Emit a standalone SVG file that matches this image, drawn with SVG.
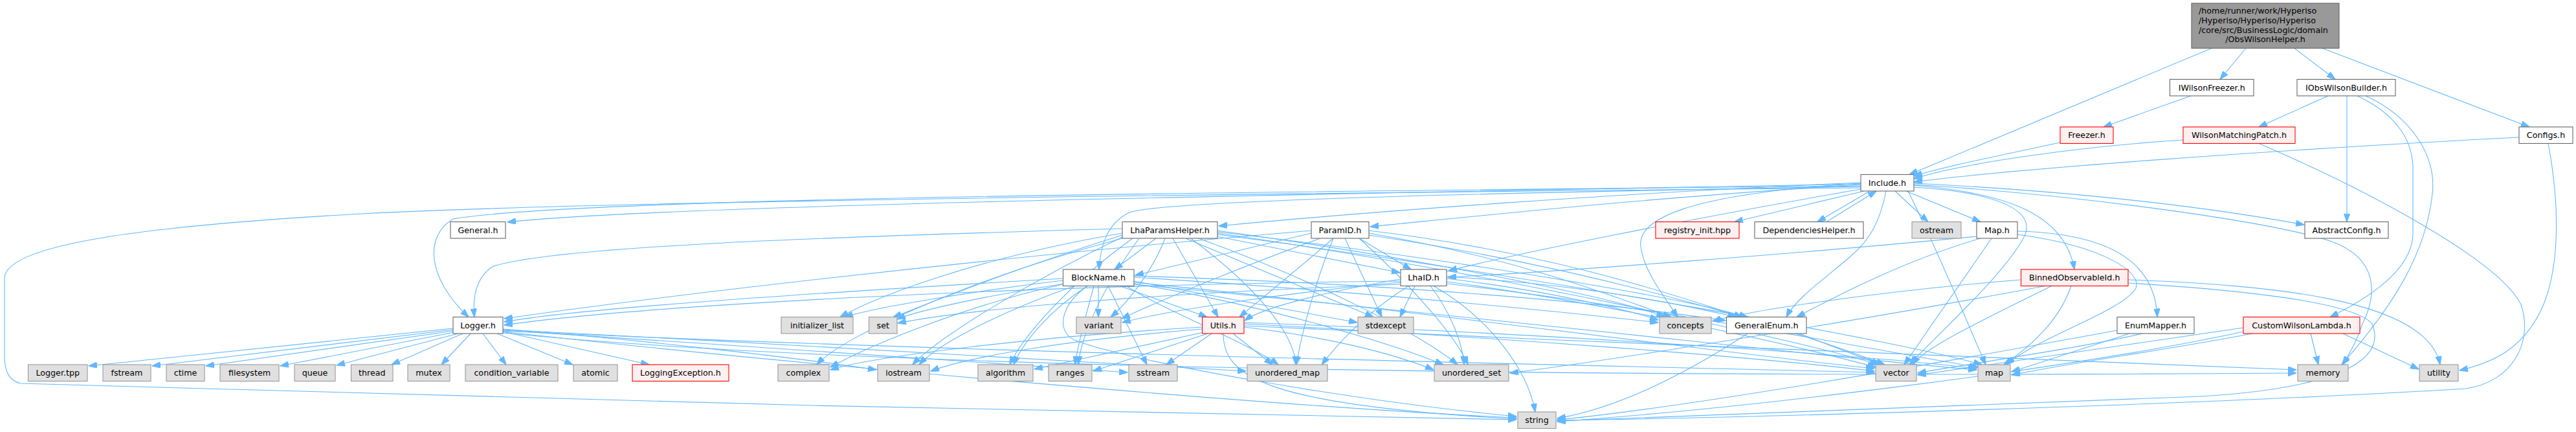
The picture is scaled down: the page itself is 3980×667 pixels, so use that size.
<svg xmlns="http://www.w3.org/2000/svg" width="3980" height="667" viewBox="0 0 3980 667">
<style>
.e{fill:none;stroke:#63B8FF;stroke-width:1.1;marker-end:url(#a)}
.n rect{stroke-width:1.1}
.w rect{fill:#fff;stroke:#666}
.g rect{fill:#E0E0E0;stroke:#999}
.r rect{fill:#FFF0F0;stroke:#f00}
.top rect{fill:#999;stroke:#666}
text{font-family:"DejaVu Sans","Liberation Sans",sans-serif;font-size:12.7px;fill:#000;text-anchor:middle}
.l{text-anchor:start}
</style>
<defs>
<marker id="a" viewBox="0 0 13.5 9.5" markerWidth="13.5" markerHeight="9.5" refX="13" refY="4.75" orient="auto" markerUnits="userSpaceOnUse">
<path d="M0,0 L13.5,4.75 L0,9.5 Z" fill="#63B8FF" stroke="#63B8FF"/>
</marker>
</defs>
<rect width="3980" height="667" fill="#fff"/>
<g id="edges">
<path class="e" d="M3417,74.5 L2950,269.5"/>
<path class="e" d="M3470,74.5 L3430,122.5"/>
<path class="e" d="M3545,74.5 L3608,122.5"/>
<path class="e" d="M3588,74.5 L3908,196"/>
<path class="e" d="M3385,148 L3250,196"/>
<path class="e" d="M3597,148 L3490,196"/>
<path class="e" d="M3626,148 L3626,342.5"/>
<path class="e" d="M3642,148 C3700,175 3728,215 3728,260 L3728,360 C3728,420 3650,465 3600,489.5"/>
<path class="e" d="M3655,148 C3725,180 3765,240 3758,300 C3748,390 3700,470 3618,563"/>
<path class="e" d="M3183,220 C3090,240 3000,258 2957,272"/>
<path class="e" d="M3373,216 C3220,226 3040,250 2957,276"/>
<path class="e" d="M3892,212 C3500,232 3100,262 2957,281"/>
<path class="e" d="M3490,221.5 C3650,290 3860,400 3895,470 C3915,530 3880,590 3810,600 C3400,625 2700,645 2406,649"/>
<path class="e" d="M2875,284 C2000,300 1000,318 784,343"/>
<path class="e" d="M2875,287 C2000,296 900,304 700,338 C655,365 660,430 724,489.5"/>
<path class="e" d="M2875,290 C1800,300 900,312 560,330 C200,350 7,380 7,430 L7,550 C7,575 15,588 32,592 C600,612 1700,638 2343,648"/>
<path class="e" d="M2875,282 C2500,298 2100,328 1883,349"/>
<path class="e" d="M2875,285 C2550,305 2300,332 2117,350"/>
<path class="e" d="M2875,288 C2400,296 1800,308 1745,328 C1710,345 1700,380 1698,416"/>
<path class="e" d="M2875,292 C2600,340 2350,390 2238,418"/>
<path class="e" d="M2880,295 L2680,342.5"/>
<path class="e" d="M2889,295 L2808,342.5"/>
<path class="e" d="M2822,342.5 L2899,295"/>
<path class="e" d="M2928,295 L2979,342.5"/>
<path class="e" d="M2945,295 L3060,342.5"/>
<path class="e" d="M2914,295 C2905,340 2890,370 2860,395 C2820,430 2775,460 2760,489.5"/>
<path class="e" d="M2957,289 C3100,298 3150,330 3125,370 C3090,430 3000,510 2950,563"/>
<path class="e" d="M2957,286 C3100,298 3190,330 3205,416"/>
<path class="e" d="M2957,283 C3200,295 3400,318 3560,347"/>
<path class="e" d="M2957,285 C3200,300 3500,340 3600,372 C3680,400 3670,460 3650,500 C3640,530 3630,545 3620,563"/>
<path class="e" d="M2875,283 C2600,300 2530,340 2535,380 C2540,420 2570,455 2592,489.5"/>
<path class="e" d="M2948,295 C3000,400 3040,500 3068,563"/>
<path class="e" d="M700,507 L137,565"/>
<path class="e" d="M700,509 L235,565"/>
<path class="e" d="M700,511 L318,565"/>
<path class="e" d="M702,513 L433,565"/>
<path class="e" d="M708,515 L520,564"/>
<path class="e" d="M715,515 L605,563"/>
<path class="e" d="M727,515 L682,563"/>
<path class="e" d="M746,515 L782,563"/>
<path class="e" d="M768,515 L885,563"/>
<path class="e" d="M777,512 L1003,563"/>
<path class="e" d="M777,508 C1000,525 1250,555 1354,571"/>
<path class="e" d="M777,510 C1100,530 1500,560 1742,575"/>
<path class="e" d="M777,512 C1200,560 2000,630 2343,645"/>
<path class="e" d="M777,514 C1500,585 3000,580 3548,576"/>
<path class="e" d="M777,511 C1500,545 2500,565 2896,575"/>
<path class="e" d="M777,509 C1200,530 1700,560 1925,573"/>
<path class="e" d="M1697,441.5 L1697,489.5"/>
<path class="e" d="M1642,430 C1300,450 900,475 779,497"/>
<path class="e" d="M1730,441.5 L1865,489.5"/>
<path class="e" d="M1752,434 L2097,498"/>
<path class="e" d="M1642,433 C1500,450 1350,475 1305,489.5"/>
<path class="e" d="M1645,438 C1550,452 1420,478 1386,493"/>
<path class="e" d="M1752,428 C2100,450 2400,480 2562,498"/>
<path class="e" d="M1752,426 C2200,440 2500,470 2666,495"/>
<path class="e" d="M1660,441.5 C1550,480 1450,530 1420,563"/>
<path class="e" d="M1680,441.5 C1620,480 1580,530 1566,563"/>
<path class="e" d="M1690,441.5 C1680,480 1665,530 1661,563"/>
<path class="e" d="M1740,441.5 C1800,480 1930,530 1975,563"/>
<path class="e" d="M1752,438 C1950,470 2150,530 2230,563"/>
<path class="e" d="M1680,441.5 C1640,470 1630,510 1660,525 C1750,560 2100,620 2343,643"/>
<path class="e" d="M1752,436 C2200,480 2700,550 2896,569"/>
<path class="e" d="M1752,439 C2300,490 2900,560 3054,571"/>
<path class="e" d="M1642,439 C1500,470 1350,530 1283,567"/>
<path class="e" d="M1712,441.5 L1772,563"/>
<path class="e" d="M1786,368 L1722,416"/>
<path class="e" d="M1880,365 L2163,421"/>
<path class="e" d="M1812,368 L1882,489.5"/>
<path class="e" d="M1800,368 C1780,420 1740,470 1716,489.5"/>
<path class="e" d="M1832,368 L2122,489.5"/>
<path class="e" d="M1734,353 C1300,365 850,380 760,412 C735,430 730,460 733,489.5"/>
<path class="e" d="M1734,360 C1500,400 1350,460 1298,489.5"/>
<path class="e" d="M1734,363 C1550,420 1420,475 1380,489.5"/>
<path class="e" d="M1734,366 C1600,430 1450,520 1410,563"/>
<path class="e" d="M1750,368 C1650,440 1580,520 1560,563"/>
<path class="e" d="M1760,368 C1700,450 1670,520 1666,563"/>
<path class="e" d="M1840,368 C1950,450 2000,520 2002,563"/>
<path class="e" d="M1852,368 C2050,440 2200,520 2252,563"/>
<path class="e" d="M1881,360 C2300,420 2800,530 2902,563"/>
<path class="e" d="M1881,362 C2400,430 2950,530 3062,563"/>
<path class="e" d="M1881,356 C2200,400 2500,460 2572,489.5"/>
<path class="e" d="M1881,358 C2250,400 2600,460 2700,489.5"/>
<path class="e" d="M1734,368 C1500,430 1300,520 1262,563"/>
<path class="e" d="M2100,368 L2180,416"/>
<path class="e" d="M2026,360 L1754,425"/>
<path class="e" d="M2060,368 C2000,420 1950,460 1915,489.5"/>
<path class="e" d="M2078,368 L2135,489.5"/>
<path class="e" d="M2040,368 C1950,400 1800,460 1733,492"/>
<path class="e" d="M2026,356 C1500,400 1000,460 779,492"/>
<path class="e" d="M2115,360 C2350,400 2500,460 2582,489.5"/>
<path class="e" d="M2115,356 C2400,390 2600,460 2692,489.5"/>
<path class="e" d="M2100,368 C2180,440 2250,520 2268,563"/>
<path class="e" d="M2060,368 C2030,440 2010,520 2003,563"/>
<path class="e" d="M2115,363 C2500,420 2800,520 2912,563"/>
<path class="e" d="M2186,441.5 L2163,489.5"/>
<path class="e" d="M2164,431 C2050,450 1950,475 1923,495"/>
<path class="e" d="M2210,441.5 C2240,480 2260,530 2262,563"/>
<path class="e" d="M2215,441.5 C2300,490 2360,570 2372,636"/>
<path class="e" d="M2235,430 C2400,450 2520,480 2562,494"/>
<path class="e" d="M2235,427 C2450,440 2600,470 2682,489.5"/>
<path class="e" d="M2164,436 C2000,450 1800,480 1734,498"/>
<path class="e" d="M2164,434 C1600,440 1000,470 779,502"/>
<path class="e" d="M2235,435 C2500,470 2800,540 2898,567"/>
<path class="e" d="M2235,438 C2600,480 2950,550 3056,567"/>
<path class="e" d="M2176,441.5 C2100,490 2060,540 2042,563"/>
<path class="e" d="M2164,439 C1800,452 1500,476 1387,499"/>
<path class="e" d="M1857,505 C1600,520 1350,550 1283,571"/>
<path class="e" d="M1857,508 C1650,525 1500,550 1438,573"/>
<path class="e" d="M1860,513 L1598,570"/>
<path class="e" d="M1866,515 L1689,573"/>
<path class="e" d="M1872,515 L1802,563"/>
<path class="e" d="M1905,515 L1966,563"/>
<path class="e" d="M1922,505 C2050,520 2150,545 2215,571"/>
<path class="e" d="M1890,515 C1890,580 1950,625 2343,647"/>
<path class="e" d="M1922,500 C2300,520 2700,550 2896,573"/>
<path class="e" d="M1922,498 C2400,515 2900,550 3054,569"/>
<path class="e" d="M1922,503 C2500,530 3200,560 3548,571"/>
<path class="e" d="M2700,515 C2600,580 2500,630 2406,646"/>
<path class="e" d="M2780,515 L2905,563"/>
<path class="e" d="M3077,368 L2942,563"/>
<path class="e" d="M3060,368 C2950,400 2850,450 2776,489.5"/>
<path class="e" d="M3117,357 C3250,360 3330,400 3333,489.5"/>
<path class="e" d="M3117,362 C3250,380 3310,420 3300,445 C3280,480 3150,520 3100,563"/>
<path class="e" d="M3054,365 C2800,390 2400,420 2237,428"/>
<path class="e" d="M3122,432 C2900,450 2700,480 2646,496"/>
<path class="e" d="M3160,441.5 C2900,490 2500,555 2333,576"/>
<path class="e" d="M3200,441.5 C3180,500 3130,540 3096,563"/>
<path class="e" d="M3288,432 C3500,440 3750,460 3770,563"/>
<path class="e" d="M3288,437 C3500,450 3640,470 3665,500 C3690,560 3600,600 3400,612 C3000,630 2600,645 2406,650"/>
<path class="e" d="M3170,441.5 C3050,500 2970,540 2955,563"/>
<path class="e" d="M3290,515 L3108,574"/>
<path class="e" d="M3310,515 C3200,540 3050,560 2963,576"/>
<path class="e" d="M3271,510 C3000,560 2600,630 2406,648"/>
<path class="e" d="M3570,515 L3582,563"/>
<path class="e" d="M3620,515 L3737,570"/>
<path class="e" d="M3466,506 C3300,530 3100,560 2963,579"/>
<path class="e" d="M3480,515 C3350,540 3200,560 3108,579"/>
<path class="e" d="M3466,512 C3200,570 2700,630 2406,651"/>
<path class="e" d="M3937,221.5 C3952,300 3958,400 3930,470 C3900,540 3850,560 3800,572"/>
</g>
<g id="n_top" class="n top"><rect x="3386" y="5" width="228" height="69.5"/><text class="l" x="3397" y="21.3">/home/runner/work/Hyperiso</text><text class="l" x="3397" y="35.9">/Hyperiso/Hyperiso/Hyperiso</text><text class="l" x="3397" y="50.5">/core/src/BusinessLogic/domain</text><text x="3500" y="65.1">/ObsWilsonHelper.h</text></g>
<g id="n_iwilsonfreezer" class="n w"><rect x="3352.5" y="122.5" width="129.5" height="25.5"/><text x="3417.25" y="139.5">IWilsonFreezer.h</text></g>
<g id="n_iobswilsonbuilder" class="n w"><rect x="3549" y="122.5" width="152" height="25.5"/><text x="3625" y="139.5">IObsWilsonBuilder.h</text></g>
<g id="n_freezer" class="n r"><rect x="3183" y="196" width="82" height="25.5"/><text x="3224" y="213">Freezer.h</text></g>
<g id="n_wilsonmatchingpatch" class="n r"><rect x="3373" y="196" width="173" height="25.5"/><text x="3459.5" y="213">WilsonMatchingPatch.h</text></g>
<g id="n_configs" class="n w"><rect x="3892" y="196" width="83" height="25.5"/><text x="3933.5" y="213">Configs.h</text></g>
<g id="n_include" class="n w"><rect x="2875" y="269.5" width="82" height="25.5"/><text x="2916" y="286.5">Include.h</text></g>
<g id="n_general" class="n w"><rect x="696" y="342.5" width="85" height="25.5"/><text x="738.5" y="359.5">General.h</text></g>
<g id="n_lhaparamshelper" class="n w"><rect x="1734" y="342.5" width="147" height="25.5"/><text x="1807.5" y="359.5">LhaParamsHelper.h</text></g>
<g id="n_paramid" class="n w"><rect x="2026" y="342.5" width="89" height="25.5"/><text x="2070.5" y="359.5">ParamID.h</text></g>
<g id="n_registry" class="n r"><rect x="2558" y="342.5" width="129" height="25.5"/><text x="2622.5" y="359.5">registry_init.hpp</text></g>
<g id="n_dependencieshelper" class="n w"><rect x="2711" y="342.5" width="168" height="25.5"/><text x="2795" y="359.5">DependenciesHelper.h</text></g>
<g id="n_ostream" class="n g"><rect x="2954" y="342.5" width="76" height="25.5"/><text x="2992" y="359.5">ostream</text></g>
<g id="n_map_h" class="n w"><rect x="3054" y="342.5" width="63" height="25.5"/><text x="3085.5" y="359.5">Map.h</text></g>
<g id="n_abstractconfig" class="n w"><rect x="3561" y="342.5" width="129" height="25.5"/><text x="3625.5" y="359.5">AbstractConfig.h</text></g>
<g id="n_blockname" class="n w"><rect x="1642.5" y="416" width="109.5" height="25.5"/><text x="1697.25" y="433">BlockName.h</text></g>
<g id="n_lhaid" class="n w"><rect x="2164" y="416" width="71" height="25.5"/><text x="2199.5" y="433">LhaID.h</text></g>
<g id="n_binnedobservableid" class="n r"><rect x="3122.5" y="416" width="165.5" height="25.5"/><text x="3205.25" y="433">BinnedObservableId.h</text></g>
<g id="n_logger_h" class="n w"><rect x="700" y="489.5" width="77" height="25.5"/><text x="738.5" y="506.5">Logger.h</text></g>
<g id="n_initializer_list" class="n g"><rect x="1207" y="489.5" width="111" height="25.5"/><text x="1262.5" y="506.5">initializer_list</text></g>
<g id="n_set" class="n g"><rect x="1342.5" y="489.5" width="43.5" height="25.5"/><text x="1364.25" y="506.5">set</text></g>
<g id="n_variant" class="n g"><rect x="1663" y="489.5" width="69" height="25.5"/><text x="1697.5" y="506.5">variant</text></g>
<g id="n_utils" class="n r"><rect x="1857.5" y="489.5" width="64.5" height="25.5"/><text x="1889.75" y="506.5">Utils.h</text></g>
<g id="n_stdexcept" class="n g"><rect x="2098" y="489.5" width="86" height="25.5"/><text x="2141" y="506.5">stdexcept</text></g>
<g id="n_concepts" class="n g"><rect x="2564" y="489.5" width="80" height="25.5"/><text x="2604" y="506.5">concepts</text></g>
<g id="n_generalenum" class="n w"><rect x="2667.5" y="489.5" width="123.5" height="25.5"/><text x="2729.25" y="506.5">GeneralEnum.h</text></g>
<g id="n_enummapper" class="n w"><rect x="3271" y="489.5" width="119" height="25.5"/><text x="3330.5" y="506.5">EnumMapper.h</text></g>
<g id="n_customwilsonlambda" class="n r"><rect x="3466" y="489.5" width="180" height="25.5"/><text x="3556" y="506.5">CustomWilsonLambda.h</text></g>
<g id="n_logger_tpp" class="n g"><rect x="43.5" y="563" width="91.5" height="25.5"/><text x="89.25" y="580">Logger.tpp</text></g>
<g id="n_fstream" class="n g"><rect x="159" y="563" width="74" height="25.5"/><text x="196" y="580">fstream</text></g>
<g id="n_ctime" class="n g"><rect x="257" y="563" width="59" height="25.5"/><text x="286.5" y="580">ctime</text></g>
<g id="n_filesystem" class="n g"><rect x="340" y="563" width="91" height="25.5"/><text x="385.5" y="580">filesystem</text></g>
<g id="n_queue" class="n g"><rect x="455" y="563" width="63" height="25.5"/><text x="486.5" y="580">queue</text></g>
<g id="n_thread" class="n g"><rect x="542.5" y="563" width="64.5" height="25.5"/><text x="574.75" y="580">thread</text></g>
<g id="n_mutex" class="n g"><rect x="630" y="563" width="65" height="25.5"/><text x="662.5" y="580">mutex</text></g>
<g id="n_condition_variable" class="n g"><rect x="719" y="563" width="143" height="25.5"/><text x="790.5" y="580">condition_variable</text></g>
<g id="n_atomic" class="n g"><rect x="886" y="563" width="68" height="25.5"/><text x="920" y="580">atomic</text></g>
<g id="n_loggingexception" class="n r"><rect x="977" y="563" width="149" height="25.5"/><text x="1051.5" y="580">LoggingException.h</text></g>
<g id="n_complex" class="n g"><rect x="1202" y="563" width="79" height="25.5"/><text x="1241.5" y="580">complex</text></g>
<g id="n_iostream" class="n g"><rect x="1356" y="563" width="80" height="25.5"/><text x="1396" y="580">iostream</text></g>
<g id="n_algorithm" class="n g"><rect x="1511" y="563" width="85" height="25.5"/><text x="1553.5" y="580">algorithm</text></g>
<g id="n_ranges" class="n g"><rect x="1620" y="563" width="67" height="25.5"/><text x="1653.5" y="580">ranges</text></g>
<g id="n_sstream" class="n g"><rect x="1744" y="563" width="75" height="25.5"/><text x="1781.5" y="580">sstream</text></g>
<g id="n_unordered_map" class="n g"><rect x="1927" y="563" width="124" height="25.5"/><text x="1989" y="580">unordered_map</text></g>
<g id="n_unordered_set" class="n g"><rect x="2216" y="563" width="115" height="25.5"/><text x="2273.5" y="580">unordered_set</text></g>
<g id="n_vector" class="n g"><rect x="2898" y="563" width="63" height="25.5"/><text x="2929.5" y="580">vector</text></g>
<g id="n_map" class="n g"><rect x="3056" y="563" width="50" height="25.5"/><text x="3081" y="580">map</text></g>
<g id="n_memory" class="n g"><rect x="3550" y="563" width="78" height="25.5"/><text x="3589" y="580">memory</text></g>
<g id="n_utility" class="n g"><rect x="3738" y="563" width="60" height="25.5"/><text x="3768" y="580">utility</text></g>
<g id="n_string" class="n g"><rect x="2345" y="636" width="59" height="25.5"/><text x="2374.5" y="653">string</text></g>
</svg>
